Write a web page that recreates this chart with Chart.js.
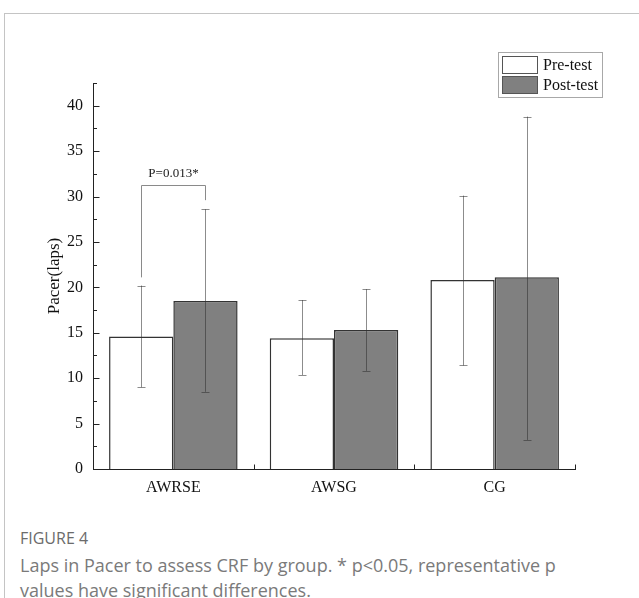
<!DOCTYPE html>
<html><head><meta charset="utf-8">
<script src="https://cdn.jsdelivr.net/npm/chart.js@4/dist/chart.umd.min.js"></script>
<style>
html,body{margin:0;padding:0;background:#fff;}
#wrap{position:relative;width:639px;height:598px;overflow:hidden;background:#fff;}
#frame{position:absolute;left:4px;top:13px;width:700px;height:700px;border-left:1px solid #c4c4c4;border-top:1px solid #c4c4c4;}
#cv{position:absolute;left:0;top:0;}
#fig{position:absolute;left:20px;top:527px;font:16px "Open Sans";color:#6b6b6b;white-space:nowrap;}
#cap{position:absolute;left:20px;top:553px;font:18px/25px "Open Sans";color:#7a7a7a;white-space:nowrap;}
</style></head>
<body>
<div id="wrap">
  <div id="frame"></div>
  <canvas id="cv" width="639" height="510"></canvas>
  <div id="fig">FIGURE 4</div>
  <div id="cap">Laps in Pacer to assess CRF by group. * p&lt;0.05, representative p<br>values have significant differences.</div>
</div>
<script>
// ---- data ----
const categories = ["AWRSE", "AWSG", "CG"];
const seriesNames = ["Pre-test", "Post-test"];
const preMean  = [14.6, 14.4, 20.8];
const preLow   = [9.0, 10.35, 11.4];
const preHigh  = [20.2, 18.6, 30.1];
const postMean = [18.5, 15.3, 21.1];
const postLow  = [8.5, 10.8, 3.2];
const postHigh = [28.6, 19.8, 38.8];
const yMajorTicks = [0, 5, 10, 15, 20, 25, 30, 35, 40];
const yMinorTicks = [2.5, 7.5, 12.5, 17.5, 22.5, 27.5, 32.5, 37.5, 42.5];
const yMax = 42.5;
const sigGroup = [0];
const sigLevel = [31.3];
const sigLeftEnd = [21.1];
const sigRightEnd = [29.6];
const sigText = ["P=0.013*"];

const lows = [preLow, postLow];
const highs = [preHigh, postHigh];
const SERIF = '"Liberation Serif", "Times New Roman", serif';

const errorBars = {
  id: 'errorBars',
  afterDatasetsDraw(chart) {
    const ctx = chart.ctx, y = chart.scales.y;
    ctx.save();
    ctx.lineWidth = 1;
    ctx.strokeStyle = 'rgba(45,45,45,0.55)';
    chart.data.datasets.forEach((ds, i) => {
      const meta = chart.getDatasetMeta(i);
      meta.data.forEach((el, j) => {
        const x = Math.round(el.x) + 0.5;
        const yl = y.getPixelForValue(lows[i][j]);
        const yh = y.getPixelForValue(highs[i][j]);
        ctx.beginPath();
        ctx.moveTo(x, yl); ctx.lineTo(x, yh);
        ctx.moveTo(x - 4, Math.round(yl) + 0.5); ctx.lineTo(x + 4, Math.round(yl) + 0.5);
        ctx.moveTo(x - 4, Math.round(yh) + 0.5); ctx.lineTo(x + 4, Math.round(yh) + 0.5);
        ctx.stroke();
      });
    });
    // significance bracket
    ctx.strokeStyle = '#8a8a8a';
    sigGroup.forEach((g, k) => {
      const e0 = chart.getDatasetMeta(0).data[g];
      const e1 = chart.getDatasetMeta(1).data[g];
      const x0 = Math.round(e0.x) + 0.5, x1 = Math.round(e1.x) + 0.5;
      const yt = Math.round(y.getPixelForValue(sigLevel[k])) + 0.5;
      ctx.beginPath();
      ctx.moveTo(x0, y.getPixelForValue(sigLeftEnd[k]));
      ctx.lineTo(x0, yt); ctx.lineTo(x1, yt);
      ctx.lineTo(x1, y.getPixelForValue(sigRightEnd[k]));
      ctx.stroke();
      ctx.fillStyle = '#1a1a1a';
      ctx.font = '13px ' + SERIF;
      ctx.textAlign = 'center';
      ctx.textBaseline = 'alphabetic';
      ctx.fillText(sigText[k], (x0 + x1) / 2, yt - 9);
    });
    ctx.restore();
  },
  afterDraw(chart) {
    const ctx = chart.ctx, y = chart.scales.y, x = chart.scales.x;
    const left = Math.round(chart.chartArea.left) + 0.5;
    const bottom = Math.round(chart.chartArea.bottom) + 0.5;
    ctx.save();
    ctx.strokeStyle = '#222';
    ctx.lineWidth = 1;
    ctx.beginPath();
    yMajorTicks.forEach(v => { const p = Math.round(y.getPixelForValue(v)) + 0.5; ctx.moveTo(left, p); ctx.lineTo(left + 6, p); });
    yMinorTicks.forEach(v => { const p = Math.round(y.getPixelForValue(v)) + 0.5; ctx.moveTo(left, p); ctx.lineTo(left + 3.5, p); });
    // x ticks at category boundaries
    for (let i = 1; i <= categories.length; i++) {
      const p = Math.round(x.getPixelForValue(i - 0.5)) + 0.5;
      ctx.moveTo(p, bottom); ctx.lineTo(p, bottom - 5);
    }
    ctx.stroke();
    // legend box
    ctx.strokeStyle = '#a8a8a8';
    ctx.strokeRect(498.5, 52.5, 104, 45);
    const fills = chart.data.datasets.map(d => d.backgroundColor);
    const tops = [56, 76];
    ctx.font = '16px ' + SERIF;
    ctx.textAlign = 'left';
    ctx.textBaseline = 'alphabetic';
    chart.data.datasets.forEach((d, i) => {
      ctx.fillStyle = fills[i];
      ctx.fillRect(502, tops[i], 36, 17);
      ctx.strokeStyle = '#555';
      ctx.strokeRect(502.5, tops[i] + 0.5, 35, 17);
      ctx.fillStyle = '#111';
      ctx.fillText(d.label, 543, tops[i] + 14);
    });
    ctx.restore();
  }
};

new Chart(document.getElementById('cv'), {
  type: 'bar',
  data: {
    labels: categories,
    datasets: [
      { label: seriesNames[0], data: preMean, backgroundColor: '#ffffff', borderColor: '#333', borderWidth: 1.5 },
      { label: seriesNames[1], data: postMean, backgroundColor: '#808080', borderColor: '#333', borderWidth: 1.5 }
    ]
  },
  options: {
    responsive: false,
    animation: false,
    events: [],
    layout: { padding: { left: 44, top: 83, right: 64, bottom: 11 } },
    datasets: { bar: { categoryPercentage: 0.8, barPercentage: 1.0 } },
    plugins: { legend: { display: false }, tooltip: { enabled: false } },
    scales: {
      x: {
        offset: true,
        grid: { display: false, drawTicks: false },
        border: { display: true, color: '#222', width: 1 },
        ticks: { color: '#111', font: { family: SERIF, size: 16 }, padding: 9, maxRotation: 0 },
        afterFit(s) { s.height = 30; }
      },
      y: {
        min: 0, max: yMax,
        grid: { display: false, drawTicks: false },
        border: { display: true, color: '#222', width: 1 },
        afterBuildTicks(s) { s.ticks = yMajorTicks.map(v => ({ value: v })); },
        ticks: { color: '#111', font: { family: SERIF, size: 16 }, padding: 10 },
        title: { display: true, text: 'Pacer(laps)', color: '#111', font: { family: SERIF, size: 17 }, padding: 0 },
        afterFit(s) { s.width = 49; }
      }
    }
  },
  plugins: [errorBars]
});
</script>
</body></html>
